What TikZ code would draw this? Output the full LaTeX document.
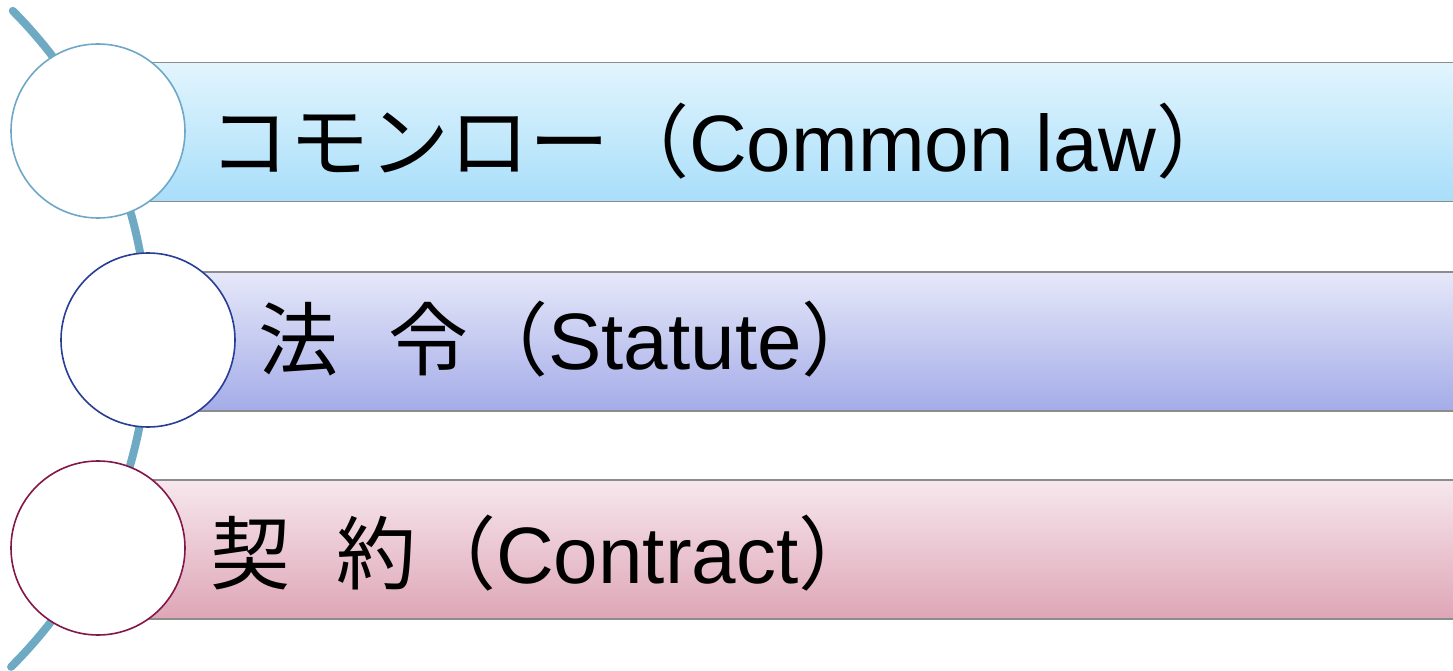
\documentclass[tikz,border=0pt]{standalone}
\usepackage{fontspec}
\setmainfont{Liberation Sans}
\newfontfamily\jp{Noto Sans CJK JP}
\definecolor{arcblue}{RGB}{110,170,196}
\definecolor{c1line}{RGB}{110,168,198}
\definecolor{c2line}{RGB}{40,62,150}
\definecolor{c3line}{RGB}{132,22,72}
\definecolor{b1top}{RGB}{226,245,253}
\definecolor{b1bot}{RGB}{168,222,250}
\definecolor{b2top}{RGB}{230,232,249}
\definecolor{b2bot}{RGB}{164,172,232}
\definecolor{b3top}{RGB}{247,231,237}
\definecolor{b3bot}{RGB}{222,166,183}
\definecolor{barline}{RGB}{140,140,140}
\tikzset{
  barbox/.style={rectangle, draw=barline, line width=1.5pt, inner sep=0pt, anchor=north west, minimum height=139pt},
  ball/.style={circle, draw, fill=white, line width=1.6pt, minimum size=174pt, inner sep=0pt},
  label/.style={anchor=base west, inner sep=0pt, font=\fontsize{80}{96}\selectfont}
}
\begin{document}
\begin{tikzpicture}[x=1pt,y=-1pt]
\useasboundingbox (0,0) rectangle (1453,671);
\clip (0,0) rectangle (1453,671);
\fill[white] (0,0) rectangle (1453,671);
% backbone arc
\draw[arcblue, line width=8pt, line cap=round]
  plot[domain=-44.9:45.2, samples=80] ({-315.5+463.5*cos(\x)}, {338+463.5*sin(\x)});
% bars
\node[barbox, top color=b1top, bottom color=b1bot, minimum width=1330pt] (bar1) at (140,62) {};
\node[barbox, top color=b2top, bottom color=b2bot, minimum width=1280pt] (bar2) at (190,271) {};
\node[barbox, top color=b3top, bottom color=b3bot, minimum width=1330pt] (bar3) at (140,479) {};
% circles
\node[ball, draw=c1line] (c1) at (98,131) {};
\node[ball, draw=c2line] (c2) at (148,340) {};
\node[ball, draw=c3line] (c3) at (98,548) {};
% labels
\node[label] (t1) at (209,172) {{\jp コモンロー（}Common law{\jp ）}};
\node[label] (t2) at (258,369) {{\jp 法}\hspace{50pt}{\jp 令（}Statute{\jp ）}};
\node[label] (t3) at (210,583) {{\jp 契}\hspace{46pt}{\jp 約（}Contract{\jp ）}};
\end{tikzpicture}
\end{document}
